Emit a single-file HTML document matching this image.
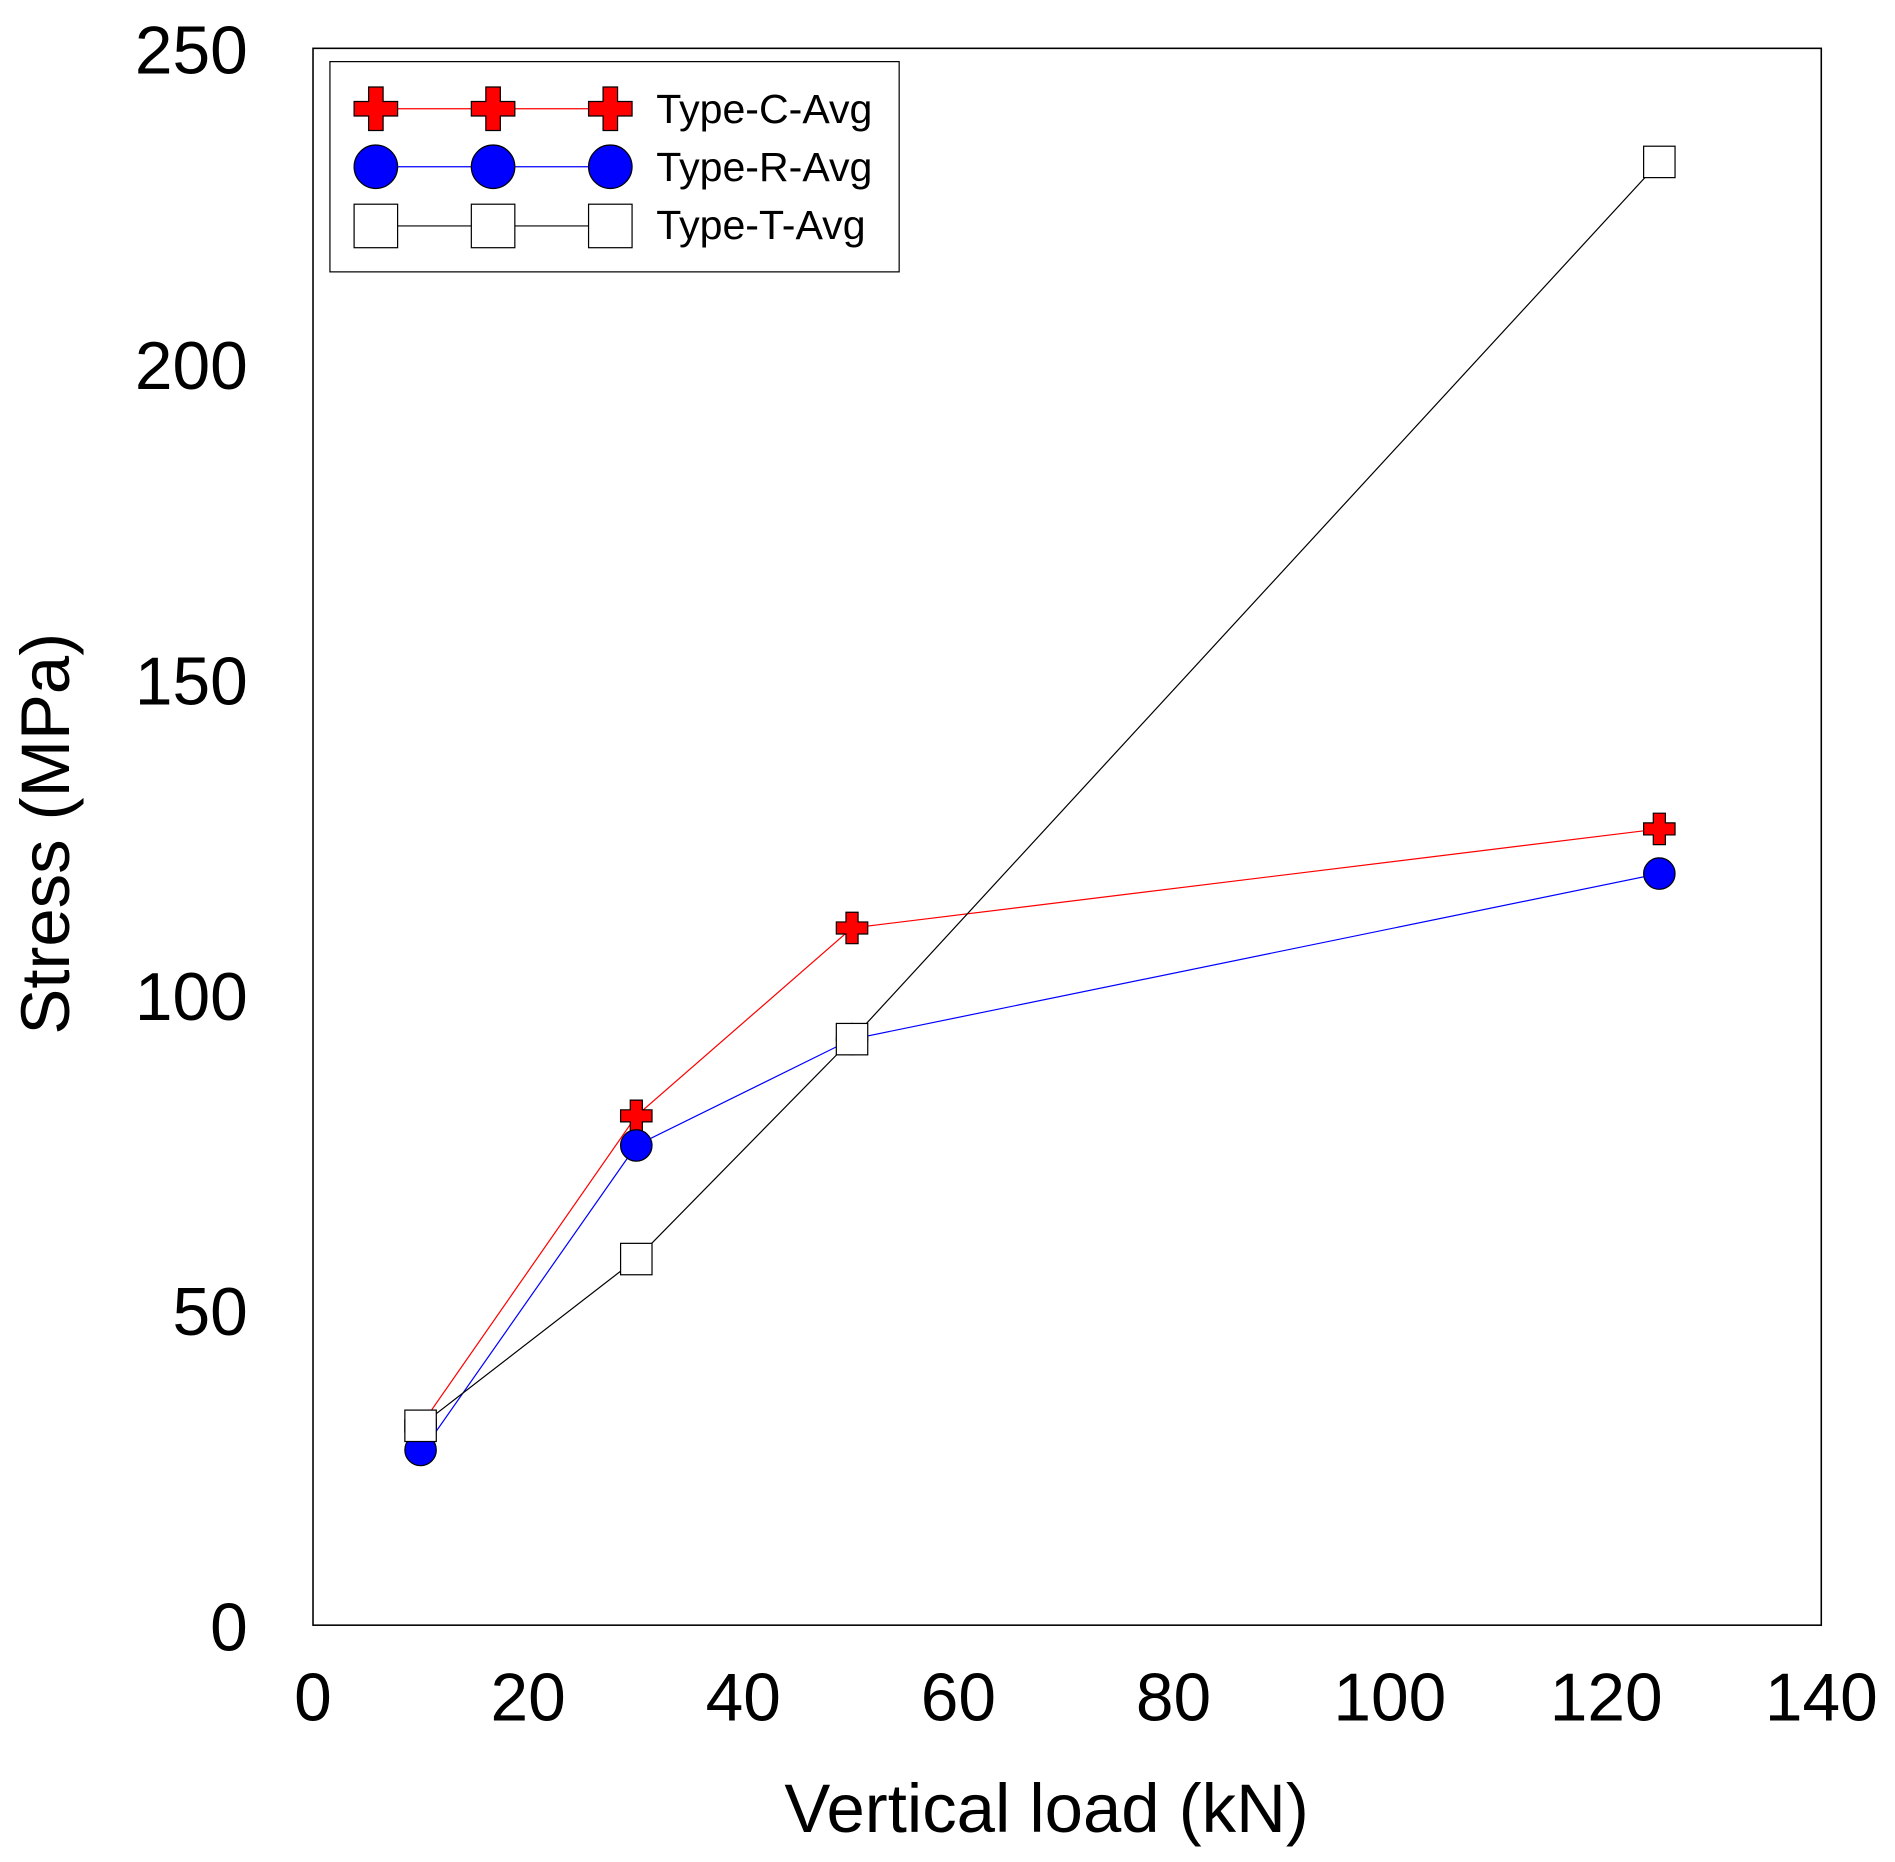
<!DOCTYPE html>
<html><head><style>html,body{margin:0;padding:0;background:#fff}svg{display:block}</style></head>
<body>
<svg width="1895" height="1862" viewBox="0 0 1568 1541" preserveAspectRatio="none" xmlns="http://www.w3.org/2000/svg" font-family="'Liberation Sans', Arial, sans-serif">
<defs>
<path id="cr" d="M-5,-13H5V-5H13V5H5V13H-5V5H-13V-5H-5Z" fill="#ff0000" stroke="#000" stroke-width="1"/>
<path id="crL" d="M-6,-18H6V-6H18V6H6V18H-6V6H-18V-6H-6Z" fill="#ff0000" stroke="#000" stroke-width="1"/>
</defs>
<rect x="259" y="40" width="1248" height="1305" fill="none" stroke="#000" stroke-width="1.3"/>
<g font-size="56" text-anchor="end" fill="#000">
<text x="205" y="61">250</text>
<text x="205" y="322">200</text>
<text x="205" y="583">150</text>
<text x="205" y="844">100</text>
<text x="205" y="1105">50</text>
<text x="205" y="1366">0</text>
</g>
<g font-size="56" text-anchor="middle" fill="#000">
<text x="259" y="1424">0</text>
<text x="437" y="1424">20</text>
<text x="615" y="1424">40</text>
<text x="793" y="1424">60</text>
<text x="971" y="1424">80</text>
<text x="1150" y="1424">100</text>
<text x="1329" y="1424">120</text>
<text x="1507" y="1424">140</text>
<text x="866" y="1516" font-size="57">Vertical load (kN)</text>
<text transform="translate(57,690) rotate(-90)" font-size="57">Stress (MPa)</text>
</g>
<!-- C -->
<polyline points="348,1180 526.5,923.5 705,768 1373,686" fill="none" stroke="#ff0000" stroke-width="1"/>
<use href="#cr" x="526.5" y="923.5"/><use href="#cr" x="705" y="768"/><use href="#cr" x="1373" y="686"/><use href="#cr" x="348" y="1180"/>
<!-- R -->
<polyline points="348,1203 526.5,948 705,860 1373,723" fill="none" stroke="#0000ff" stroke-width="1"/>
<g fill="#0000ff" stroke="#000" stroke-width="1">
<circle cx="348" cy="1200" r="13"/><circle cx="526.5" cy="948" r="13"/><circle cx="705" cy="860" r="13"/><circle cx="1373" cy="723" r="13"/>
</g>
<!-- T -->
<polyline points="348,1180 526.5,1042 705,860 1373,134" fill="none" stroke="#000" stroke-width="1"/>
<g fill="#fff" stroke="#000" stroke-width="1">
<rect x="335" y="1167" width="26" height="26"/><rect x="513.5" y="1029" width="26" height="26"/><rect x="692" y="847" width="26" height="26"/><rect x="1360" y="121" width="26" height="26"/>
</g>
<!-- legend -->
<rect x="273" y="51" width="471" height="174" fill="#fff" stroke="#000" stroke-width="1"/>
<line x1="311" y1="90" x2="505" y2="90" stroke="#ff0000" stroke-width="1"/>
<use href="#crL" x="311" y="90"/><use href="#crL" x="408" y="90"/><use href="#crL" x="505" y="90"/>
<line x1="311" y1="138" x2="505" y2="138" stroke="#0000ff" stroke-width="1"/>
<g fill="#0000ff" stroke="#000" stroke-width="1"><ellipse cx="311" cy="138" rx="18" ry="18"/><ellipse cx="408" cy="138" rx="18" ry="18"/><ellipse cx="505" cy="138" rx="18" ry="18"/></g>
<line x1="311" y1="187" x2="505" y2="187" stroke="#000" stroke-width="1"/>
<g fill="#fff" stroke="#000" stroke-width="1"><rect x="293" y="169" width="36" height="36"/><rect x="390" y="169" width="36" height="36"/><rect x="487" y="169" width="36" height="36"/></g>
<g font-size="34" fill="#000">
<text x="543" y="102">Type-C-Avg</text>
<text x="543" y="150">Type-R-Avg</text>
<text x="543" y="198">Type-T-Avg</text>
</g>
</svg>
</body></html>
